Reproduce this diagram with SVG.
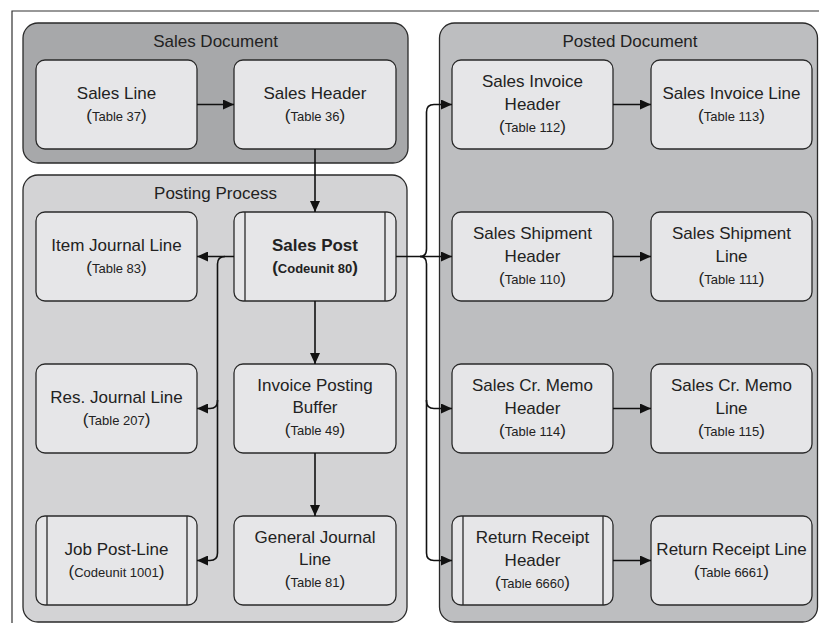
<svg xmlns="http://www.w3.org/2000/svg" width="819" height="623" viewBox="0 0 819 623">
  <style>
    .grp { stroke: #2a2a2a; stroke-width: 1.3; }
    .g-doc { fill: #a7a8aa; }
    .g-post { fill: #d3d3d5; }
    .g-posted { fill: #bdbec0; }
    .node { fill: #e6e6e8; stroke: #2a2a2a; stroke-width: 1.3; }
    .bar { stroke: #2a2a2a; stroke-width: 1.3; }
    text { font-family: "Liberation Sans", Arial, sans-serif; fill: #222; text-anchor: middle; }
    .t { font-size: 17px; }
    .s { font-size: 13px; }
    .b { font-weight: bold; }
    .wire { fill: none; stroke: #111; stroke-width: 1.6; }
    .frame { fill: none; stroke: #333; stroke-width: 1.2; }
  </style>
  <defs>
    <marker id="arrow" markerUnits="userSpaceOnUse" markerWidth="11" markerHeight="10" refX="11" refY="5" orient="auto">
      <path d="M0,0 L11,5 L0,10 z" fill="#111"/>
    </marker>
  </defs>

  <rect width="819" height="623" fill="#ffffff"/>
  <path class="frame" d="M12,623 V11 H819"/>

  <!-- containers -->
  <g id="sales-document">
    <rect class="grp g-doc" x="23" y="23" width="385" height="140" rx="15"/>
    <text class="t" x="215.5" y="47">Sales Document</text>
  </g>
  <g id="posting-process">
    <rect class="grp g-post" x="23" y="175" width="384" height="447" rx="15"/>
    <text class="t" x="215.5" y="199">Posting Process</text>
  </g>
  <g id="posted-document">
    <rect class="grp g-posted" x="439.5" y="23" width="378" height="599" rx="15"/>
    <text class="t" x="630" y="47">Posted Document</text>
  </g>

  <!-- Sales Document nodes -->
  <g id="sales-line">
    <rect class="node" x="36" y="60" width="161" height="89" rx="9"/>
    <text class="t" x="116.5" y="99">Sales Line</text>
    <text class="t" x="116.5" y="121">(<tspan class="s">Table 37</tspan>)</text>
  </g>
  <g id="sales-header">
    <rect class="node" x="234" y="60" width="162" height="89" rx="9"/>
    <text class="t" x="315" y="99">Sales Header</text>
    <text class="t" x="315" y="121">(<tspan class="s">Table 36</tspan>)</text>
  </g>

  <!-- Posting Process nodes -->
  <g id="item-journal-line">
    <rect class="node" x="36" y="212" width="161" height="89" rx="9"/>
    <text class="t" x="116.5" y="251">Item Journal Line</text>
    <text class="t" x="116.5" y="273">(<tspan class="s">Table 83</tspan>)</text>
  </g>
  <g id="sales-post">
    <rect class="node" x="234" y="212" width="162" height="89" rx="9"/>
    <line class="bar" x1="245" y1="212" x2="245" y2="301"/>
    <line class="bar" x1="385" y1="212" x2="385" y2="301"/>
    <text class="t b" x="315" y="251">Sales Post</text>
    <text class="t b" x="315" y="273">(<tspan class="s">Codeunit 80</tspan>)</text>
  </g>
  <g id="res-journal-line">
    <rect class="node" x="36" y="364" width="161" height="89" rx="9"/>
    <text class="t" x="116.5" y="403">Res. Journal Line</text>
    <text class="t" x="116.5" y="425">(<tspan class="s">Table 207</tspan>)</text>
  </g>
  <g id="invoice-posting-buffer">
    <rect class="node" x="234" y="364" width="162" height="89" rx="9"/>
    <text class="t" x="315" y="391">Invoice Posting</text>
    <text class="t" x="315" y="413">Buffer</text>
    <text class="t" x="315" y="435">(<tspan class="s">Table 49</tspan>)</text>
  </g>
  <g id="job-post-line">
    <rect class="node" x="36" y="516" width="161" height="89" rx="9"/>
    <line class="bar" x1="47" y1="516" x2="47" y2="605"/>
    <line class="bar" x1="187" y1="516" x2="187" y2="605"/>
    <text class="t" x="116.5" y="555">Job Post-Line</text>
    <text class="t" x="116.5" y="577">(<tspan class="s">Codeunit 1001</tspan>)</text>
  </g>
  <g id="general-journal-line">
    <rect class="node" x="234" y="516" width="162" height="89" rx="9"/>
    <text class="t" x="315" y="543">General Journal</text>
    <text class="t" x="315" y="565">Line</text>
    <text class="t" x="315" y="587">(<tspan class="s">Table 81</tspan>)</text>
  </g>

  <!-- Posted Document nodes -->
  <g id="sales-invoice-header">
    <rect class="node" x="452" y="60" width="161" height="89" rx="9"/>
    <text class="t" x="532.5" y="87">Sales Invoice</text>
    <text class="t" x="532.5" y="110">Header</text>
    <text class="t" x="532.5" y="132">(<tspan class="s">Table 112</tspan>)</text>
  </g>
  <g id="sales-invoice-line">
    <rect class="node" x="651" y="60" width="161" height="89" rx="9"/>
    <text class="t" x="731.5" y="99">Sales Invoice Line</text>
    <text class="t" x="731.5" y="121">(<tspan class="s">Table 113</tspan>)</text>
  </g>
  <g id="sales-shipment-header">
    <rect class="node" x="452" y="212" width="161" height="89" rx="9"/>
    <text class="t" x="532.5" y="239">Sales Shipment</text>
    <text class="t" x="532.5" y="262">Header</text>
    <text class="t" x="532.5" y="284">(<tspan class="s">Table 110</tspan>)</text>
  </g>
  <g id="sales-shipment-line">
    <rect class="node" x="651" y="212" width="161" height="89" rx="9"/>
    <text class="t" x="731.5" y="239">Sales Shipment</text>
    <text class="t" x="731.5" y="262">Line</text>
    <text class="t" x="731.5" y="284">(<tspan class="s">Table 111</tspan>)</text>
  </g>
  <g id="sales-cr-memo-header">
    <rect class="node" x="452" y="364" width="161" height="89" rx="9"/>
    <text class="t" x="532.5" y="391">Sales Cr. Memo</text>
    <text class="t" x="532.5" y="414">Header</text>
    <text class="t" x="532.5" y="436">(<tspan class="s">Table 114</tspan>)</text>
  </g>
  <g id="sales-cr-memo-line">
    <rect class="node" x="651" y="364" width="161" height="89" rx="9"/>
    <text class="t" x="731.5" y="391">Sales Cr. Memo</text>
    <text class="t" x="731.5" y="414">Line</text>
    <text class="t" x="731.5" y="436">(<tspan class="s">Table 115</tspan>)</text>
  </g>
  <g id="return-receipt-header">
    <rect class="node" x="452" y="516" width="161" height="89" rx="9"/>
    <line class="bar" x1="463" y1="516" x2="463" y2="605"/>
    <line class="bar" x1="603" y1="516" x2="603" y2="605"/>
    <text class="t" x="532.5" y="543">Return Receipt</text>
    <text class="t" x="532.5" y="566">Header</text>
    <text class="t" x="532.5" y="588">(<tspan class="s">Table 6660</tspan>)</text>
  </g>
  <g id="return-receipt-line">
    <rect class="node" x="651" y="516" width="161" height="89" rx="9"/>
    <text class="t" x="731.5" y="555">Return Receipt Line</text>
    <text class="t" x="731.5" y="577">(<tspan class="s">Table 6661</tspan>)</text>
  </g>

  <!-- connectors -->
  <g id="connectors">
    <path class="wire" marker-end="url(#arrow)" d="M197,104.5 H234"/>
    <path class="wire" marker-end="url(#arrow)" d="M315,149 V212"/>
    <path class="wire" marker-end="url(#arrow)" d="M234,256.5 H197"/>
    <path class="wire" marker-end="url(#arrow)" d="M225,256.5 Q217.5,256.5 217.5,264 V401 Q217.5,408.5 210,408.5 H197"/>
    <path class="wire" marker-end="url(#arrow)" d="M217.5,400 V553 Q217.5,560.5 210,560.5 H197"/>
    <path class="wire" marker-end="url(#arrow)" d="M315,301 V364"/>
    <path class="wire" marker-end="url(#arrow)" d="M315,453 V516"/>
    <path class="wire" marker-end="url(#arrow)" d="M396,256.5 H452"/>
    <path class="wire" marker-end="url(#arrow)" d="M420,256.5 Q426.5,256.5 426.5,249 V112 Q426.5,104.5 434,104.5 H452"/>
    <path class="wire" marker-end="url(#arrow)" d="M420,256.5 Q426.5,256.5 426.5,264 V401 Q426.5,408.5 434,408.5 H452"/>
    <path class="wire" marker-end="url(#arrow)" d="M426.5,400 V553 Q426.5,560.5 434,560.5 H452"/>
    <path class="wire" marker-end="url(#arrow)" d="M613,104.5 H651"/>
    <path class="wire" marker-end="url(#arrow)" d="M613,256.5 H651"/>
    <path class="wire" marker-end="url(#arrow)" d="M613,408.5 H651"/>
    <path class="wire" marker-end="url(#arrow)" d="M613,560.5 H651"/>
  </g>
</svg>
